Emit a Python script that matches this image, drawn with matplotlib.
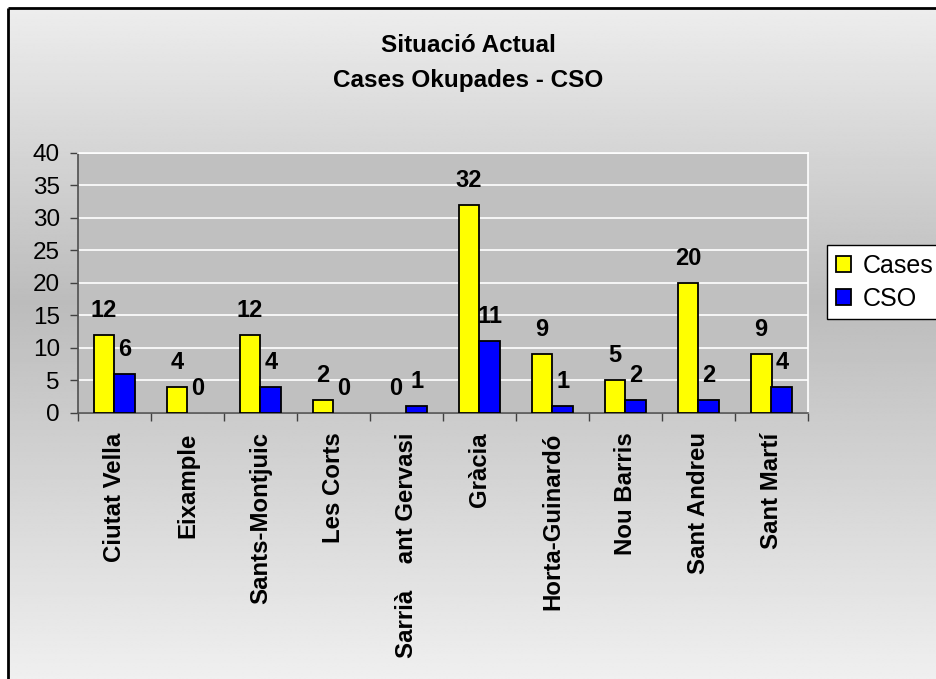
import numpy as np
import matplotlib
matplotlib.use("Agg")
import matplotlib.pyplot as plt

plt.rcParams['font.family'] = ['Liberation Sans', 'DejaVu Sans']

categories = ["Ciutat Vella", "Eixample", "Sants-Montjuic", "Les Corts",
              "Sarrià    ant Gervasi", "Gràcia", "Horta-Guinardó",
              "Nou Barris", "Sant Andreu", "Sant Martí"]
cases = [12, 4, 12, 2, 0, 32, 9, 5, 20, 9]
cso = [6, 0, 4, 0, 1, 11, 1, 2, 2, 4]
series_names = ["Cases", "CSO"]
title_lines = ["Situació Actual", "Cases Okupades - CSO"]
yticks = [0, 5, 10, 15, 20, 25, 30, 35, 40]

W, H = 937, 679
fig = plt.figure(figsize=(W / 100, H / 100), dpi=100)
fig.patch.set_facecolor("white")

# background with vertical gradient and border
bg = fig.add_axes([0, 0, 1, 1], zorder=-10)
bg.axis("off")
ys = np.linspace(8, H, 400)
top_c, mid_c, bot_c = 237, 188, 240
mid_y = 300
vals = np.where(ys < mid_y,
                top_c + (mid_c - top_c) * (ys - 8) / (mid_y - 8),
                mid_c + (bot_c - mid_c) * (ys - mid_y) / (H - mid_y)) / 255.0
grad = np.repeat(vals[:, None], 2, axis=1)
bg.imshow(grad, cmap="gray", vmin=0, vmax=1, extent=[8, W + 5, H + 5, 8],
          aspect="auto", interpolation="bilinear")
bg.set_xlim(0, W)
bg.set_ylim(H, 0)
bg.plot([8, 8], [H + 5, 8], color="black", lw=2, solid_capstyle="butt")
bg.plot([8, W + 5], [8, 8], color="black", lw=2, solid_capstyle="butt")

# main axes
left, right, top, bottom = 78, 808, 153, 413
ax = fig.add_axes([left / W, 1 - bottom / H, (right - left) / W, (bottom - top) / H])
ax.set_facecolor("#c0c0c0")

n = len(categories)
x = np.arange(n)
w = 0.2857
b1 = ax.bar(x - w / 2, cases, width=w, color="#ffff00", edgecolor="black",
            lw=[1.3 if v else 0 for v in cases], label=series_names[0], zorder=3)
b2 = ax.bar(x + w / 2, cso, width=w, color="#0000ff", edgecolor="black",
            lw=[1.3 if v else 0 for v in cso], label=series_names[1], zorder=3)

for bars, vals_ in ((b1, cases), (b2, cso)):
    for rect, v in zip(bars, vals_):
        ax.annotate(str(v), (rect.get_x() + rect.get_width() / 2, v),
                    xytext=(0, 13), textcoords="offset points",
                    ha="center", va="baseline", fontsize=17, fontweight="bold",
                    zorder=5)

ax.set_xlim(-0.5, n - 0.5)
ax.set_ylim(0, 40)
ax.set_yticks(yticks)
ax.set_yticklabels([str(t) for t in yticks], fontsize=17.5)
ax.tick_params(axis="y", direction="out", length=6, width=1, pad=7, colors="#404040",
               labelcolor="black")
ax.yaxis.grid(True, color="white", lw=1.2, zorder=1)
ax.set_axisbelow(True)

ax.set_xticks(x)
ax.set_xticklabels(categories, rotation=90, fontsize=17.3, fontweight="bold",
                   va="top", ha="center")
ax.tick_params(axis="x", which="major", length=0, pad=14)
ax.set_xticks(np.arange(n + 1) - 0.5, minor=True)
ax.tick_params(axis="x", which="minor", direction="out", length=6, width=1,
               colors="#404040")

for s in ("left", "bottom"):
    ax.spines[s].set_color("#505050")
    ax.spines[s].set_linewidth(1.2)
for s in ("top", "right"):
    ax.spines[s].set_color("white")
    ax.spines[s].set_linewidth(1.2)

# title
fig.text(0.5, 1 - 45 / H, title_lines[0], ha="center", va="center",
         fontsize=17.5, fontweight="bold")
fig.text(0.5, 1 - 80 / H, title_lines[1], ha="center", va="center",
         fontsize=17.5, fontweight="bold")

# legend
leg = fig.legend(handles=[b1, b2], labels=series_names, loc="upper left",
                 bbox_to_anchor=(827 / W, 1 - 245 / H), fontsize=18,
                 frameon=True, fancybox=False, edgecolor="black",
                 facecolor="white", framealpha=1, handlelength=0.6,
                 handleheight=0.6, handletextpad=0.5, labelspacing=0.35,
                 borderpad=0.35, borderaxespad=0)
leg.get_frame().set_linewidth(1)
for h in leg.legend_handles:
    h.set_linewidth(1.3)

fig.savefig("out.png", dpi=100)
